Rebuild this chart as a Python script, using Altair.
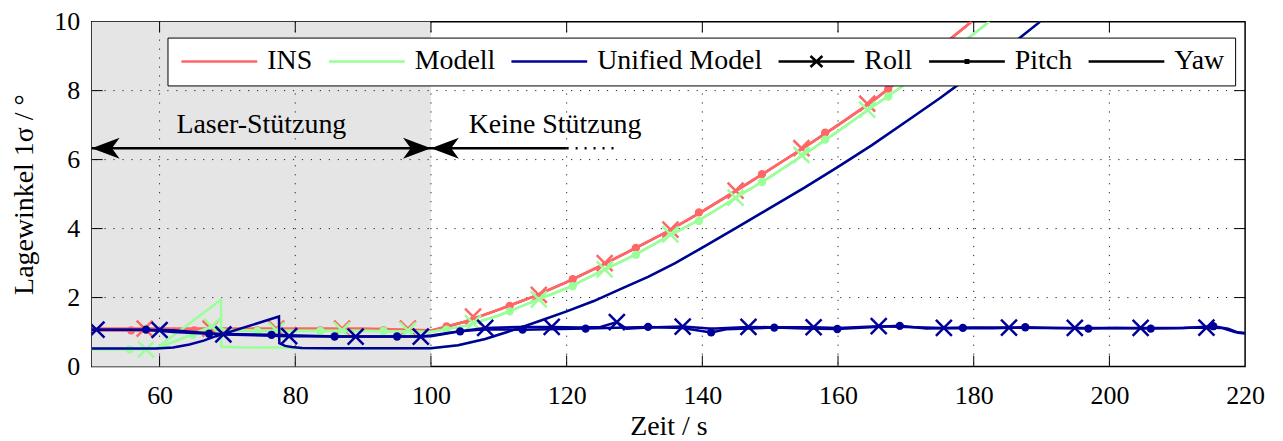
import altair as alt
import pandas as pd

# ---------------- axes / layout values ----------------
X_DOMAIN = [50, 220]
Y_DOMAIN = [0, 10]
X_TICKS = [60, 80, 100, 120, 140, 160, 180, 200, 220]
Y_TICKS = [0, 2, 4, 6, 8, 10]
X_GRID = [60, 80, 100, 120, 140, 160, 180, 200]
Y_GRID = [2, 4, 6, 8]

SHADE_START = [50]
SHADE_END = [100]
SHADE_LOW = [0]
SHADE_HIGH = [10]

ARROW_Y = 6.33
SHAFT_START = [50, 100]
SHAFT_END = [100, 120]
DOT_START = [120]
DOT_END = [127.6]
HEAD_LEFT_X = [50, 100]
HEAD_RIGHT_X = [100]
LABEL_TEXT = ["Laser-Stützung", "Keine Stützung"]
LABEL_X = [75, 118.3]
LABEL_Y = [7.0, 7.0]

# ---------------- INS ----------------
INS_t = [50, 60, 70, 80, 90, 100, 105, 110, 115, 120, 125, 130, 135, 140, 145,
         150, 155, 160, 165, 170, 175, 179.7]
INS_roll = [1.1, 1.1, 1.1, 1.1, 1.1, 1.05, 1.3, 1.65, 2.02, 2.45, 2.92, 3.42, 3.93,
            4.5, 5.1, 5.72, 6.35, 7.0, 7.68, 8.45, 9.25, 10.0]
INS_pitch = [1.05, 1.05, 1.05, 1.05, 1.05, 1.03, 1.3, 1.65, 2.02, 2.45, 2.92, 3.42,
             3.93, 4.5, 5.1, 5.72, 6.35, 7.0, 7.68, 8.45, 9.25, 10.0]
INS_yaw = [1.05, 1.05, 1.05, 1.05, 1.05, 1.03, 1.3, 1.65, 2.02, 2.45, 2.92, 3.42,
           3.93, 4.5, 5.1, 5.72, 6.35, 7.0, 7.68, 8.45, 9.25, 10.0]
INS_roll_mk_t = [57.8, 67.5, 77.2, 86.9, 96.6, 106.2, 115.9, 125.6, 135.3, 144.9, 154.6, 164.3]
INS_roll_mk_v = [1.1, 1.1, 1.1, 1.1, 1.1, 1.45, 2.08, 3.0, 3.97, 5.1, 6.33, 7.62]
INS_pitch_mk_t = [55.8, 65.1, 74.4, 83.7, 93.0, 102.3, 111.6, 120.9, 130.2, 139.5, 148.8, 158.1, 167.4]
INS_pitch_mk_v = [1.05, 1.05, 1.05, 1.05, 1.05, 1.16, 1.76, 2.53, 3.44, 4.47, 5.58, 6.78, 8.05]

# ---------------- Modell ----------------
MOD_t = [50, 58, 59.5, 67.7, 70, 80, 90, 100, 105, 110, 115, 120, 125, 130, 135,
         140, 145, 150, 155, 160, 165, 170, 175, 180, 182.3]
MOD_roll = [0.5, 0.5, 0.52, 1.16, 1.05, 1.04, 1.04, 1.0, 1.18, 1.48, 1.88, 2.27, 2.75,
            3.23, 3.78, 4.3, 4.9, 5.5, 6.15, 6.82, 7.52, 8.2, 8.9, 9.64, 10.0]
MOD_pitch = [0.5, 0.5, 0.52, 1.16, 1.05, 1.03, 1.03, 1.0, 1.18, 1.48, 1.88, 2.27, 2.75,
             3.23, 3.78, 4.3, 4.9, 5.5, 6.15, 6.82, 7.52, 8.2, 8.9, 9.64, 10.0]
MOD_yaw_t = [50, 59.5, 69.05, 69.1, 72, 78, 80, 100, 104, 108, 112, 116, 120, 124, 128,
             132, 136, 140, 145, 150, 155, 160, 165, 170, 175, 180, 185, 189.8]
MOD_yaw = [0.52, 0.52, 1.94, 0.58, 0.55, 0.55, 0.53, 0.53, 0.62, 0.8, 1.05, 1.32, 1.6,
           1.9, 2.25, 2.6, 3.0, 3.45, 4.02, 4.6, 5.18, 5.79, 6.42, 7.1, 7.78, 8.5, 9.25, 10.0]
MOD_roll_mk_t = [58.0, 67.7, 77.2, 86.9, 96.6, 106.2, 115.9, 125.6, 135.3, 144.9, 154.6, 164.3]
MOD_roll_mk_v = [0.5, 1.16, 1.05, 1.05, 1.05, 1.26, 1.95, 2.82, 3.83, 4.9, 6.14, 7.45]
MOD_pitch_mk_t = [55.6, 64.9, 74.4, 83.7, 93.0, 102.3, 111.6, 120.9, 130.2, 139.5, 148.8, 158.1, 167.4]
MOD_pitch_mk_v = [0.5, 0.92, 1.03, 1.03, 1.03, 1.07, 1.6, 2.33, 3.24, 4.22, 5.35, 6.58, 7.83]

# ---------------- Unified Model ----------------
UM_roll_t = [50, 60, 62, 69.4, 79.1, 88.9, 98.5, 100, 104, 108, 113, 117.8, 122, 125,
             127.4, 128.8, 132, 137.1, 141, 142, 146.8, 150, 156.4, 160, 166, 170,
             175.6, 180, 185.2, 190, 194.9, 200, 204.6, 210, 214.3, 216.5, 218.5, 220]
UM_roll = [1.07, 1.06, 1.05, 0.93, 0.88, 0.87, 0.87, 0.9, 1.02, 1.12, 1.15, 1.15, 1.13,
           1.15, 1.29, 1.1, 1.13, 1.16, 1.1, 1.1, 1.15, 1.14, 1.14, 1.12, 1.17, 1.15,
           1.12, 1.13, 1.13, 1.12, 1.12, 1.12, 1.12, 1.12, 1.13, 1.12, 1.0, 0.97]
UM_pitch_t = [50, 58, 62, 67.3, 76.5, 85.8, 95, 100, 104.3, 108, 113.5, 122.8, 132, 137,
              141.3, 143.5, 150.6, 155, 159.9, 164, 169.1, 173, 178.4, 183, 187.6, 192,
              196.9, 201, 206.1, 211, 215.3, 217.5, 219, 220]
UM_pitch = [1.07, 1.07, 1.0, 0.95, 0.92, 0.87, 0.87, 0.88, 1.02, 1.08, 1.07, 1.1, 1.15,
            1.12, 0.99, 1.08, 1.13, 1.1, 1.09, 1.13, 1.18, 1.1, 1.12, 1.11, 1.14, 1.12,
            1.1, 1.12, 1.1, 1.12, 1.17, 1.1, 0.98, 0.96]
UM_yaw_t = [50, 59.5, 62, 64.4, 66.5, 68.3, 77.6, 77.65, 78.5, 79.5, 81, 85, 100, 104,
            108, 112, 116, 120, 124, 128, 132, 136, 140, 145, 150, 155, 160, 165, 170,
            175, 180, 185, 189.8]
UM_yaw = [0.52, 0.52, 0.55, 0.64, 0.75, 0.88, 1.45, 0.68, 0.6, 0.57, 0.54, 0.53, 0.53,
          0.62, 0.8, 1.05, 1.32, 1.6, 1.9, 2.25, 2.6, 3.0, 3.45, 4.02, 4.6, 5.18,
          5.79, 6.42, 7.1, 7.78, 8.5, 9.25, 10.0]
UM_roll_mk_t = [50.7, 60.0, 69.4, 79.1, 88.9, 98.5, 108.0, 117.8, 127.4, 137.1, 146.8,
                156.4, 166.0, 175.6, 185.2, 194.9, 204.6, 214.3]
UM_roll_mk_v = [1.07, 1.06, 0.93, 0.88, 0.87, 0.87, 1.12, 1.15, 1.29, 1.16, 1.15, 1.14,
                1.17, 1.12, 1.13, 1.12, 1.12, 1.13]
UM_pitch_mk_t = [58.0, 67.3, 76.5, 85.8, 95.0, 104.3, 113.5, 122.8, 132.0, 141.3, 150.6,
                 159.9, 169.1, 178.4, 187.6, 196.9, 206.1, 215.3]
UM_pitch_mk_v = [1.07, 0.95, 0.92, 0.87, 0.87, 1.02, 1.07, 1.10, 1.15, 0.99, 1.13, 1.09,
                 1.18, 1.12, 1.14, 1.10, 1.10, 1.17]

# ---------------- legend ----------------
ENTRIES = ["INS", "Modell", "Unified Model", "Roll", "Pitch", "Yaw"]
ENTRY_COLORS = ["#ff6666", "#99ff99", "#000099", "black", "black", "black"]
LINE_PATH = "M-1,0L6.6,0"
ROLL_PATH = "M-1,0L6.6,0M2.2,-0.55L3.4,0.55M2.2,0.55L3.4,-0.55"
PITCH_PATH = "M-1,0L6.6,0M2.68,-0.12L2.92,-0.12L2.92,0.12L2.68,0.12Z"
ENTRY_SHAPES = [LINE_PATH, LINE_PATH, LINE_PATH, ROLL_PATH, PITCH_PATH, LINE_PATH]

COL_INS, COL_MOD, COL_UM = "#ff6666", "#99ff99", "#000099"
FONT = "Liberation Serif"
W, H = 1157, 346

X_SHAPE = "M-1,-1L1,1M-1,1L1,-1"
HEAD_L = "M0,0L2,-0.75L1.45,0L2,0.75Z"
HEAD_R = "M0,0L-2,-0.75L-1.45,0L-2,0.75Z"

# ---------------- build ----------------
xscale = alt.Scale(domain=X_DOMAIN, nice=False, zero=False)
yscale = alt.Scale(domain=Y_DOMAIN, nice=False)
xaxis = alt.Axis(values=X_TICKS, title="Zeit / s", labelFlush=False, labelPadding=16,
                 titlePadding=4, grid=False, ticks=False, domain=False)
yaxis = alt.Axis(values=Y_TICKS, title="Lagewinkel 1σ / °", labelFlush=False,
                 labelPadding=12, titlePadding=15, grid=False, ticks=False, domain=False)


def X(field):
    return alt.X(field, type="quantitative", scale=xscale, axis=xaxis)


def Y(field):
    return alt.Y(field, type="quantitative", scale=yscale, axis=yaxis)


def series(axis_name, ts, vs):
    return pd.DataFrame({"axis": axis_name, "t": ts, "v": vs, "i": list(range(len(ts)))})


def model_layers(lines, roll_mk, pitch_mk, color):
    df = pd.concat([series(a, t, v) for a, t, v in lines], ignore_index=True)
    ln = alt.Chart(df).mark_line(color=color, strokeWidth=2.5, clip=True).encode(
        x=X("t"), y=Y("v"), detail="axis:N", order="i:Q")
    xm = alt.Chart(pd.DataFrame({"t": roll_mk[0], "v": roll_mk[1]})).mark_point(
        shape=X_SHAPE, size=256, strokeWidth=2.5, filled=False, color=color,
        opacity=1, clip=True).encode(x=X("t"), y=Y("v"))
    dm = alt.Chart(pd.DataFrame({"t": pitch_mk[0], "v": pitch_mk[1]})).mark_circle(
        size=70, color=color, opacity=1, clip=True).encode(x=X("t"), y=Y("v"))
    return [ln, xm, dm]


shade = alt.Chart(pd.DataFrame({"a": SHADE_START, "b": SHADE_END, "lo": SHADE_LOW,
                                "hi": SHADE_HIGH})).mark_rect(color="#e5e5e5").encode(
    x=X("a"), x2="b", y=Y("lo"), y2="hi")

gx = alt.Chart(pd.DataFrame({"t": X_GRID})).mark_rule(
    color="#222", strokeWidth=1, strokeDash=[1.2, 7.8]).encode(x=X("t"))
gy = alt.Chart(pd.DataFrame({"v": Y_GRID})).mark_rule(
    color="#222", strokeWidth=1, strokeDash=[1.2, 7.8]).encode(y=Y("v"))

tick_b = alt.Chart(pd.DataFrame({"t": X_GRID})).mark_rule(color="black", strokeWidth=1).encode(
    x=X("t"), y=alt.value(H), y2=alt.value(H - 11))
tick_t = alt.Chart(pd.DataFrame({"t": X_GRID})).mark_rule(color="black", strokeWidth=1).encode(
    x=X("t"), y=alt.value(0), y2=alt.value(11))
tick_l = alt.Chart(pd.DataFrame({"v": Y_GRID})).mark_rule(color="black", strokeWidth=1).encode(
    y=Y("v"), x=alt.value(0), x2=alt.value(11))
tick_r = alt.Chart(pd.DataFrame({"v": Y_GRID})).mark_rule(color="black", strokeWidth=1).encode(
    y=Y("v"), x=alt.value(W), x2=alt.value(W - 11))

ins = model_layers([("Roll", INS_t, INS_roll), ("Pitch", INS_t, INS_pitch), ("Yaw", INS_t, INS_yaw)],
                   (INS_roll_mk_t, INS_roll_mk_v), (INS_pitch_mk_t, INS_pitch_mk_v), COL_INS)
mod = model_layers([("Roll", MOD_t, MOD_roll), ("Pitch", MOD_t, MOD_pitch), ("Yaw", MOD_yaw_t, MOD_yaw)],
                   (MOD_roll_mk_t, MOD_roll_mk_v), (MOD_pitch_mk_t, MOD_pitch_mk_v), COL_MOD)
um = model_layers([("Roll", UM_roll_t, UM_roll), ("Pitch", UM_pitch_t, UM_pitch), ("Yaw", UM_yaw_t, UM_yaw)],
                  (UM_roll_mk_t, UM_roll_mk_v), (UM_pitch_mk_t, UM_pitch_mk_v), COL_UM)

shaft = alt.Chart(pd.DataFrame({"a": SHAFT_START, "b": SHAFT_END, "v": [ARROW_Y] * 2})).mark_rule(
    color="black", strokeWidth=2.5).encode(x=X("a"), x2="b", y=Y("v"))
dots = alt.Chart(pd.DataFrame({"a": DOT_START, "b": DOT_END, "v": [ARROW_Y]})).mark_rule(
    color="black", strokeWidth=2.5, strokeDash=[2, 7]).encode(x=X("a"), x2="b", y=Y("v"))
head_l = alt.Chart(pd.DataFrame({"t": HEAD_LEFT_X, "v": [ARROW_Y] * 2})).mark_point(
    shape=HEAD_L, size=784, filled=True, color="black", opacity=1).encode(x=X("t"), y=Y("v"))
head_r = alt.Chart(pd.DataFrame({"t": HEAD_RIGHT_X, "v": [ARROW_Y]})).mark_point(
    shape=HEAD_R, size=784, filled=True, color="black", opacity=1).encode(x=X("t"), y=Y("v"))
labels = alt.Chart(pd.DataFrame({"t": LABEL_X, "v": LABEL_Y, "s": LABEL_TEXT})).mark_text(
    font=FONT, fontSize=28, color="black", align="center", baseline="middle").encode(
    x=X("t"), y=Y("v"), text="s:N")

leg = alt.Legend(title=None, orient="none", legendX=76, legendY=16, direction="horizontal",
                 columns=6, symbolSize=400, symbolStrokeWidth=2.5, labelFont=FONT,
                 labelFontSize=28, labelColor="black", labelOffset=62, columnPadding=11,
                 padding=10, strokeColor="black", fillColor="white", symbolOpacity=1,
                 labelLimit=400)
legend_layer = alt.Chart(pd.DataFrame({"entry": ENTRIES})).mark_point(
    filled=False, strokeWidth=2.5, opacity=1, clip=True).encode(
    x=alt.value(-2000), y=alt.value(-2000),
    color=alt.Color("entry:N", scale=alt.Scale(domain=ENTRIES, range=ENTRY_COLORS), legend=leg),
    shape=alt.Shape("entry:N", scale=alt.Scale(domain=ENTRIES, range=ENTRY_SHAPES), legend=leg))

chart = alt.layer(
    shade, gx, gy, tick_b, tick_t, tick_l, tick_r,
    *ins, *mod, *um,
    shaft, dots, head_l, head_r, labels, legend_layer,
).properties(
    width=W, height=H,
    padding={"left": 84, "top": 13, "right": 30, "bottom": 74},
    autosize=alt.AutoSizeParams(type="none"),
).configure_view(
    stroke="black", strokeWidth=1.5
).configure_axis(
    labelFont=FONT, labelFontSize=26, labelColor="black",
    titleFont=FONT, titleFontSize=28, titleFontWeight="normal", titleColor="black",
)

chart.save("out.html", embed_options={"renderer": "svg", "actions": False})
